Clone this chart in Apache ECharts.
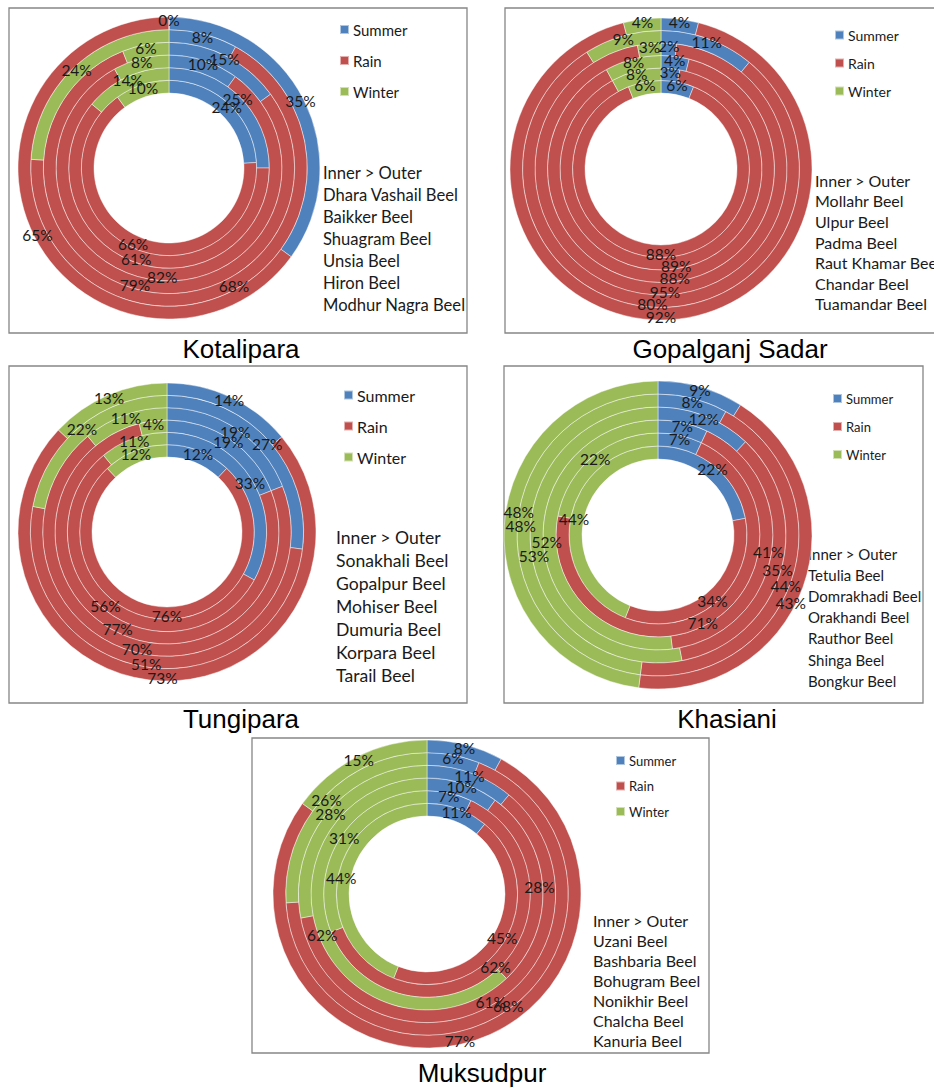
<!DOCTYPE html>
<html>
<head>
<meta charset="utf-8">
<script src="https://cdn.jsdelivr.net/npm/echarts@6/dist/echarts.min.js"></script>
<style>
  html, body { margin: 0; padding: 0; background: #fff; }
  #chart { width: 934px; height: 1088px; }
</style>
</head>
<body>
<div id="chart"></div>
<script>
// season order, clockwise from 12 o'clock
const seasons = ['Summer', 'Rain', 'Winter'];

// Kotalipara (inner > outer)
const kotaliparaBeels = ['Dhara Vashail Beel', 'Baikker Beel', 'Shuagram Beel', 'Unsia Beel', 'Hiron Beel', 'Modhur Nagra Beel'];
const kotaliparaSummer = [24, 25, 10, 15, 8, 35];
const kotaliparaRain = [66, 61, 82, 79, 68, 65];
const kotaliparaWinter = [10, 14, 8, 6, 24, 0];

// Gopalganj Sadar
const gopalganjBeels = ['Mollahr Beel', 'Ulpur Beel', 'Padma Beel', 'Raut Khamar Beel', 'Chandar Beel', 'Tuamandar Beel'];
const gopalganjSummer = [6, 3, 4, 2, 11, 4];
const gopalganjRain = [88, 89, 88, 95, 80, 92];
const gopalganjWinter = [6, 8, 8, 3, 9, 4];

// Tungipara
const tungiparaBeels = ['Sonakhali Beel', 'Gopalpur Beel', 'Mohiser Beel', 'Dumuria Beel', 'Korpara Beel', 'Tarail Beel'];
const tungiparaSummer = [12, 33, 19, 19, 27, 14];
const tungiparaRain = [76, 56, 77, 70, 51, 73];
const tungiparaWinter = [12, 11, 4, 11, 22, 13];

// Khasiani
const khasianiBeels = ['Tetulia Beel', 'Domrakhadi Beel', 'Orakhandi Beel', 'Rauthor Beel', 'Shinga Beel', 'Bongkur Beel'];
const khasianiSummer = [22, 7, 7, 12, 8, 9];
const khasianiRain = [34, 71, 41, 35, 44, 43];
const khasianiWinter = [44, 22, 52, 53, 48, 48];

// Muksudpur
const muksudpurBeels = ['Uzani Beel', 'Bashbaria Beel', 'Bohugram Beel', 'Nonikhir Beel', 'Chalcha Beel', 'Kanuria Beel'];
const muksudpurSummer = [11, 7, 10, 11, 6, 8];
const muksudpurRain = [45, 62, 28, 61, 68, 77];
const muksudpurWinter = [44, 31, 62, 28, 26, 15];

var myChart = echarts.init(document.getElementById('chart'), null, { renderer: 'svg' });
const calibri = 'Lato, "Open Sans", sans-serif';

// layout of each panel (boxes, pie centre, legend and name list)
// nudge: small label shifts ("ring-season": [dx, dy]) like Excel does where labels collide
const panels = [
    {
        title: 'Kotalipara', titleX: 241, titleY: 349,
        box: [9, 8, 458, 325], center: [169, 168], r0: 75, r1: 151,
        legend: { left: 339, top: 22, gap: 16, size: 15 },
        list: { x: 323, y: 162, lh: 22, size: 16.6 },
        nudge: {},
        beels: kotaliparaBeels, summer: kotaliparaSummer, rain: kotaliparaRain, winter: kotaliparaWinter
    },
    {
        title: 'Gopalganj Sadar', titleX: 730, titleY: 349,
        box: [505, 8, 440, 325], center: [661, 169], r0: 76, r1: 151,
        legend: { left: 834, top: 28, gap: 14, size: 14 },
        list: { x: 815, y: 170, lh: 20.6, size: 16 },
        nudge: {},
        beels: gopalganjBeels, summer: gopalganjSummer, rain: gopalganjRain, winter: gopalganjWinter
    },
    {
        title: 'Tungipara', titleX: 241, titleY: 719,
        box: [9, 366, 458, 337], center: [167, 532], r0: 75, r1: 149,
        legend: { left: 343, top: 387, gap: 15, size: 16 },
        list: { x: 336, y: 526, lh: 23, size: 17.6 },
        nudge: {},
        beels: tungiparaBeels, summer: tungiparaSummer, rain: tungiparaRain, winter: tungiparaWinter
    },
    {
        title: 'Khasiani', titleX: 727, titleY: 719,
        box: [504, 366, 419, 337], center: [658, 535], r0: 76, r1: 154,
        legend: { left: 832, top: 392, gap: 15, size: 13 },
        list: { x: 808, y: 543, lh: 21.2, size: 15 },
        nudge: { '5-2': [11, -14], '3-2': [0, 9], '4-1': [-3, 9], '5-1': [-9, 17] },
        beels: khasianiBeels, summer: khasianiSummer, rain: khasianiRain, winter: khasianiWinter
    },
    {
        title: 'Muksudpur', titleX: 482, titleY: 1073,
        box: [252, 738, 457, 315], center: [427, 894], r0: 78, r1: 154,
        legend: { left: 615, top: 754, gap: 12.5, size: 13 },
        list: { x: 593, y: 910, lh: 20, size: 16 },
        nudge: {},
        beels: muksudpurBeels, summer: muksudpurSummer, rain: muksudpurRain, winter: muksudpurWinter
    }
];

var series = [];
var legends = [];
var graphics = [];

function makeLabelLayout(nudge, ring) {
    return function (params) {
        var d = nudge[ring + '-' + params.dataIndex];
        var out = { hideOverlap: false };
        if (d) { out.dx = d[0]; out.dy = d[1]; }
        return out;
    };
}

panels.forEach(function (p) {
    graphics.push({
        type: 'rect', z: -1,
        shape: { x: p.box[0], y: p.box[1], width: p.box[2], height: p.box[3] },
        style: { fill: '#fff', stroke: '#868686', lineWidth: 1.3 }
    });
    graphics.push({
        type: 'text',
        style: {
            text: p.title, x: p.titleX, y: p.titleY,
            font: '26px "Liberation Sans", Arial, sans-serif',
            fill: '#000', textAlign: 'center', textVerticalAlign: 'middle'
        }
    });
    graphics.push({
        type: 'text',
        style: {
            text: ['Inner > Outer'].concat(p.beels).join('\n'),
            x: p.list.x, y: p.list.y,
            font: p.list.size + 'px ' + calibri,
            lineHeight: p.list.lh,
            fill: '#1a1a1a', textAlign: 'left', textVerticalAlign: 'top'
        }
    });
    legends.push({
        orient: 'vertical', left: p.legend.left, top: p.legend.top,
        itemGap: p.legend.gap, itemWidth: 9, itemHeight: 9, icon: 'rect',
        selectedMode: false, padding: 0,
        textStyle: { fontFamily: calibri, fontSize: p.legend.size, color: '#1a1a1a', padding: [0, 0, 0, -1] },
        data: seasons
    });
    var w = (p.r1 - p.r0) / 6;
    for (var i = 0; i < 6; i++) {
        series.push({
            type: 'pie',
            name: p.title + ' ' + p.beels[i],
            center: p.center,
            radius: [p.r0 + i * w, p.r0 + (i + 1) * w],
            startAngle: 90,
            clockwise: true,
            avoidLabelOverlap: false,
            silent: true,
            animation: false,
            itemStyle: { borderColor: 'rgba(255,255,255,0.55)', borderWidth: 0.8 },
            label: {
                show: true, position: 'inside', formatter: '{c}%',
                fontFamily: calibri, fontSize: 15.5, color: '#1a1a1a'
            },
            labelLayout: makeLabelLayout(p.nudge, i),
            labelLine: { show: false },
            data: [
                { name: seasons[0], value: p.summer[i] },
                { name: seasons[1], value: p.rain[i] },
                { name: seasons[2], value: p.winter[i] }
            ]
        });
    }
});

var option = {
    animation: false,
    color: ['#4F81BD', '#C0504D', '#9BBB59'],
    legend: legends,
    graphic: graphics,
    series: series
};
myChart.setOption(option);
</script>
</body>
</html>
